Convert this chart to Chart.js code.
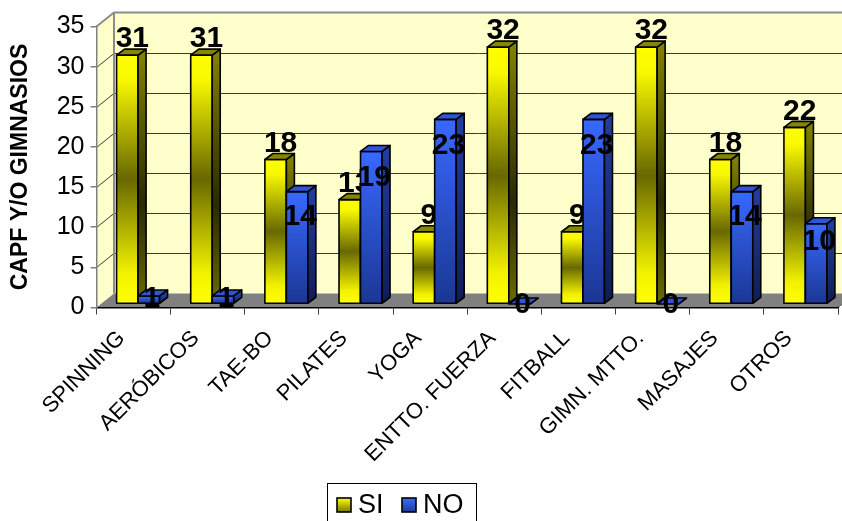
<!DOCTYPE html>
<html>
<head>
<meta charset="utf-8">
<script src="https://cdn.jsdelivr.net/npm/chart.js@4.4.1/dist/chart.umd.min.js"></script>
<style>
  html, body { margin: 0; padding: 0; background: #fff; }
  canvas { display: block; }
</style>
</head>
<body>
<canvas id="c" width="842" height="521"></canvas>
<script>
const categories = ['SPINNING', 'AERÓBICOS', 'TAE-BO', 'PILATES', 'YOGA', 'ENTTO. FUERZA', 'FITBALL', 'GIMN. MTTO.', 'MASAJES', 'OTROS'];
const seriesNames = ['SI', 'NO'];
const siValues = [31, 31, 18, 13, 9, 32, 9, 32, 18, 22];
const noValues = [1, 1, 14, 19, 23, 0, 23, 0, 14, 10];
const yTicks = [0, 5, 10, 15, 20, 25, 30, 35];
const axisTitle = 'CAPF Y/O GIMNASIOS';

const FONT = '"Liberation Sans", Arial, sans-serif';

// 3D geometry: back wall offset, bar plane shift and bar depth
const WALL = { dx: 17.5, dy: -14 };
const BAR_SHIFT = { dx: 4.5, dy: -3.5 };
const BAR_DEPTH = { dx: 8, dy: -6 };

function poly(ctx, pts) {
  ctx.beginPath();
  ctx.moveTo(pts[0][0], pts[0][1]);
  for (let i = 1; i < pts.length; i++) ctx.lineTo(pts[i][0], pts[i][1]);
  ctx.closePath();
}

// Back wall, side wall, floor and wall gridlines
const wallsPlugin = {
  id: 'walls',
  beforeDraw(chart) {
    const ctx = chart.ctx;
    const { left, right, top, bottom } = chart.chartArea;
    const y = chart.scales.y;
    const W = chart.width;
    ctx.save();
    ctx.fillStyle = '#ffffcc';
    poly(ctx, [[left + WALL.dx, top + WALL.dy], [W + 20, top + WALL.dy], [W + 20, bottom + WALL.dy], [left + WALL.dx, bottom + WALL.dy]]);
    ctx.fill();
    poly(ctx, [[left, top], [left + WALL.dx, top + WALL.dy], [left + WALL.dx, bottom + WALL.dy], [left, bottom]]);
    ctx.fill();
    // gridlines across the side wall and the back wall
    ctx.strokeStyle = '#3a3a3a';
    ctx.lineWidth = 1;
    yTicks.forEach(v => {
      if (v === 0 || v === 35) return;
      const py = Math.round(y.getPixelForValue(v)) + 0.5;
      ctx.beginPath();
      ctx.moveTo(left, py);
      ctx.lineTo(left + WALL.dx, py + WALL.dy);
      ctx.lineTo(W + 20, py + WALL.dy);
      ctx.stroke();
    });
    // wall edges
    ctx.strokeStyle = '#8c8c8c';
    ctx.lineWidth = 2;
    ctx.beginPath();
    ctx.moveTo(left, top);
    ctx.lineTo(left + WALL.dx, top + WALL.dy);
    ctx.lineTo(W + 20, top + WALL.dy);
    ctx.moveTo(left + WALL.dx, top + WALL.dy);
    ctx.lineTo(left + WALL.dx, bottom + WALL.dy);
    ctx.stroke();
    // floor
    ctx.fillStyle = '#808080';
    poly(ctx, [[left, bottom], [left + WALL.dx, bottom + WALL.dy], [right + WALL.dx, bottom + WALL.dy], [right, bottom]]);
    ctx.fill();
    ctx.strokeStyle = '#555';
    ctx.lineWidth = 1;
    ctx.beginPath();
    ctx.moveTo(right, bottom);
    ctx.lineTo(right + WALL.dx, bottom + WALL.dy);
    ctx.stroke();
    ctx.restore();
  }
};

function siFront(ctx, t, b) {
  const g = ctx.createLinearGradient(0, t, 0, b);
  g.addColorStop(0, '#ffff00');
  g.addColorStop(0.1, '#f8f800');
  g.addColorStop(0.5, '#686800');
  g.addColorStop(0.88, '#f2f200');
  g.addColorStop(1, '#ffff00');
  return g;
}
function siSide(ctx, t, b) {
  const g = ctx.createLinearGradient(0, t, 0, b);
  g.addColorStop(0, '#808000');
  g.addColorStop(0.6, '#2a2a00');
  g.addColorStop(1, '#6a6a00');
  return g;
}
function noFront(ctx, t, b) {
  const g = ctx.createLinearGradient(0, t, 0, b);
  g.addColorStop(0, '#3868ff');
  g.addColorStop(1, '#1b3794');
  return g;
}
function noSide(ctx, t, b) {
  const g = ctx.createLinearGradient(0, t, 0, b);
  g.addColorStop(0, '#213d9c');
  g.addColorStop(1, '#0f1d55');
  return g;
}
const STYLES = [
  { front: siFront, side: siSide, top: '#858500', labelDx: 5 },
  { front: noFront, side: noSide, top: '#2d55d6', labelDx: 3 }
];

function drawBar(ctx, el, st) {
  const { x, y, base, width } = el.getProps(['x', 'y', 'base', 'width'], true);
  const l = x - width / 2 + BAR_SHIFT.dx, r = x + width / 2 + BAR_SHIFT.dx;
  const t = y + BAR_SHIFT.dy, b = base + BAR_SHIFT.dy;
  const dx = BAR_DEPTH.dx, dy = BAR_DEPTH.dy;
  ctx.lineWidth = 1.6;
  ctx.strokeStyle = '#000';
  ctx.lineJoin = 'round';
  if (b - t > 0.5) {
    ctx.fillStyle = st.front(ctx, t, b);
    poly(ctx, [[l, t], [r, t], [r, b], [l, b]]);
    ctx.fill(); ctx.stroke();
    ctx.fillStyle = st.side(ctx, t, b);
    poly(ctx, [[r, t], [r + dx, t + dy], [r + dx, b + dy], [r, b]]);
    ctx.fill(); ctx.stroke();
  }
  ctx.fillStyle = st.top;
  poly(ctx, [[l, t], [l + dx, t + dy], [r + dx, t + dy], [r, t]]);
  ctx.fill(); ctx.stroke();
  return { l, r, t, b };
}

// 3D bars plus value labels, series by series
const barsPlugin = {
  id: 'bars3d',
  afterDatasetsDraw(chart) {
    const ctx = chart.ctx;
    ctx.save();
    chart.data.datasets.forEach((ds, di) => {
      const st = STYLES[di];
      const meta = chart.getDatasetMeta(di);
      const boxes = meta.data.map(el => drawBar(ctx, el, st));
      ctx.fillStyle = '#000';
      ctx.font = 'bold 30px ' + FONT;
      ctx.textAlign = 'center';
      ctx.textBaseline = 'middle';
      boxes.forEach((bx, i) => {
        const v = ds.data[i];
        const cx = (bx.l + bx.r) / 2 + st.labelDx;
        let cy;
        if (di === 0) cy = bx.t - 16;
        else cy = bx.t + Math.min(25, (bx.b - bx.t) * 0.22) + 1;
        ctx.fillText(String(v), cx, cy);
      });
    });
    ctx.restore();
  }
};

// Boxed legend under the category labels
const legendPlugin = {
  id: 'boxLegend',
  afterDraw(chart) {
    const ctx = chart.ctx;
    ctx.save();
    ctx.fillStyle = '#fff';
    ctx.fillRect(327.5, 483.5, 149, 50);
    ctx.strokeStyle = '#000';
    ctx.lineWidth = 1;
    ctx.strokeRect(327.5, 483.5, 149, 50);
    const items = [
      { x: 337, grad: ['#ffff00', '#7a7a00'] },
      { x: 402, grad: ['#3c6cff', '#1c3a9a'] }
    ];
    ctx.font = '27px ' + FONT;
    ctx.textBaseline = 'middle';
    ctx.textAlign = 'left';
    items.forEach((it, i) => {
      const g = ctx.createLinearGradient(0, 498, 0, 512);
      g.addColorStop(0, it.grad[0]);
      g.addColorStop(1, it.grad[1]);
      ctx.fillStyle = g;
      ctx.fillRect(it.x, 498, 14, 14);
      ctx.lineWidth = 1.6;
      ctx.strokeStyle = '#000';
      ctx.strokeRect(it.x, 498, 14, 14);
      ctx.fillStyle = '#000';
      ctx.fillText(seriesNames[i], it.x + 21, 506);
    });
    ctx.restore();
  }
};

new Chart(document.getElementById('c'), {
  type: 'bar',
  data: {
    labels: categories,
    datasets: [
      { label: seriesNames[0], data: siValues, backgroundColor: 'rgba(0,0,0,0)', borderWidth: 0, categoryPercentage: 0.58, barPercentage: 1 },
      { label: seriesNames[1], data: noValues, backgroundColor: 'rgba(0,0,0,0)', borderWidth: 0, categoryPercentage: 0.58, barPercentage: 1 }
    ]
  },
  options: {
    responsive: false,
    animation: false,
    devicePixelRatio: 1,
    layout: { padding: { left: 0, right: 4, top: 26.5, bottom: 0 } },
    plugins: { legend: { display: false }, tooltip: { enabled: false } },
    scales: {
      x: {
        grid: { drawOnChartArea: false, offset: true, tickLength: 7, color: '#404040', lineWidth: 1 },
        border: { color: '#000', width: 1.5 },
        ticks: { font: { family: FONT, size: 22 }, color: '#000', minRotation: 45, maxRotation: 45, autoSkip: false, padding: 11, labelOffset: -12 },
        afterFit: s => { s.height = 521 - 307.5; }
      },
      y: {
        min: 0, max: 35,
        afterBuildTicks: s => { s.ticks = yTicks.map(v => ({ value: v })); },
        ticks: { font: { family: FONT, size: 25 }, color: '#000', padding: 6 },
        grid: { drawOnChartArea: false, tickLength: 6, color: '#808080', lineWidth: 1.5 },
        border: { color: '#808080', width: 1.5 },
        title: { display: true, text: axisTitle, font: { family: FONT, size: 23, weight: 'bold' }, color: '#000', padding: { top: 7, bottom: 0 } },
        afterFit: s => { s.width = 96.5; }
      }
    }
  },
  plugins: [wallsPlugin, barsPlugin, legendPlugin]
});
</script>
</body>
</html>
